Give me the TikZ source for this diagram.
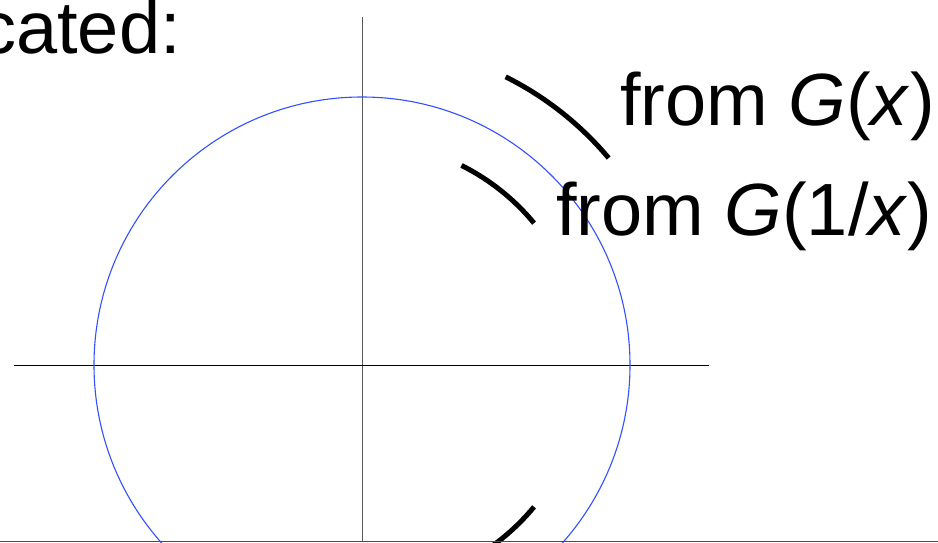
\documentclass[tikz,border=0pt]{standalone}
\usepackage{fontspec}
\setmainfont{Liberation Sans}
\usetikzlibrary{calc}
\definecolor{circblue}{RGB}{50,80,255}
\begin{document}
\begin{tikzpicture}[x=1pt,y=-1pt,
  lbl/.style={inner sep=0pt,font=\fontsize{74}{80}\selectfont},
  thickarc/.style={line width=5pt,black}]
\useasboundingbox (0,0) rectangle (938,542);
\clip (0,0) rectangle (938,542);
\coordinate (O) at (362,365);
% axes
\draw[gray!70!black,line width=1pt] (362,17) -- (362,542);
\draw[black,line width=1pt] (14,365) -- (709,365);
% unit circle
\draw[circblue,line width=1.1pt] (O) circle[radius=268];
% arcs
\draw[thickarc] ($(O)+(-63.5:322)$) arc[start angle=-63.5,end angle=-40,radius=322];
\draw[thickarc] ($(O)+(-63.5:223)$) arc[start angle=-63.5,end angle=-39.5,radius=223];
\draw[thickarc] ($(O)+(39.5:223)$) arc[start angle=39.5,end angle=63.5,radius=223];
% bottom edge
\draw[gray!60!black,line width=1.5pt] (0,541.5) -- (938,541.5);
% labels
\node[lbl,anchor=base west] (top) at (-21,53) {cated:};
\node[lbl,anchor=base west] (gx) at (620,125) {from \textit{G}(\textit{x})};
\node[lbl,anchor=base west] (g1x) at (556,235) {from \textit{G}(1/\textit{x})};
\end{tikzpicture}
\end{document}
